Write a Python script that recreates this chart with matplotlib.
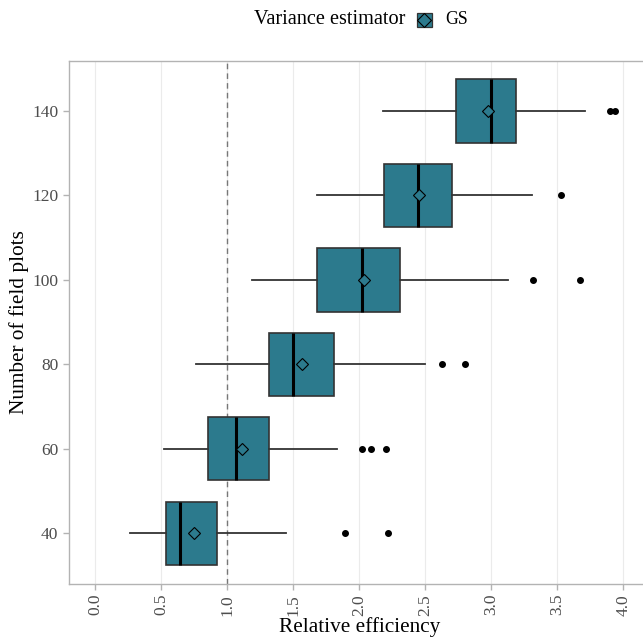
import matplotlib.pyplot as plt
import numpy as np
from matplotlib.patches import Rectangle
from matplotlib.lines import Line2D

plt.rcParams['font.family'] = ['Liberation Serif', 'DejaVu Serif']

# box summary per number of field plots
plots = [40, 60, 80, 100, 120, 140]
whislo = [0.265, 0.525, 0.763, 1.19, 1.684, 2.18]
q1 = [0.535, 0.859, 1.318, 1.684, 2.19, 2.737]
med = [0.644, 1.07, 1.502, 2.02, 2.444, 2.998]
q3 = [0.924, 1.318, 1.81, 2.31, 2.70, 3.184]
whishi = [1.444, 1.836, 2.50, 3.13, 3.31, 3.71]
means = [0.752, 1.116, 1.566, 2.033, 2.45, 2.975]
outliers = [[1.89, 2.22], [2.02, 2.09, 2.20], [2.63, 2.805],
            [3.316, 3.67], [3.53], [3.90, 3.94]]

teal = '#2C7A8D'
edge = '#333333'

fig = plt.figure(figsize=(6.43, 6.38), dpi=100)
W, H = 643, 638
ax = fig.add_axes([68.6 / W, (H - 583.5) / H, 581.1 / W, (583.5 - 60.7) / H])

stats = []
for i in range(len(plots)):
    stats.append(dict(whislo=whislo[i], q1=q1[i], med=med[i], q3=q3[i],
                      whishi=whishi[i], fliers=outliers[i], mean=means[i]))

ax.axvline(1.0, color='#777777', linestyle=(0, (4, 3)), linewidth=1.0, zorder=1)

ax.bxp(stats, positions=plots, widths=15, vert=False, patch_artist=True,
       showmeans=True, showcaps=False,
       boxprops=dict(facecolor=teal, edgecolor=edge, linewidth=1.2),
       whiskerprops=dict(color=edge, linewidth=1.3),
       medianprops=dict(color='black', linewidth=2.2),
       meanprops=dict(marker='D', markerfacecolor=teal, markeredgecolor='black',
                      markersize=6.5, markeredgewidth=0.8),
       flierprops=dict(marker='o', markerfacecolor='black', markeredgecolor='black',
                       markersize=4),
       zorder=3)

ax.set_xlim(-0.2, 4.2)
ax.set_ylim(28.1, 151.9)
ax.set_xticks(np.arange(0, 4.01, 0.5))
ax.set_xticklabels([f'{v:.1f}' for v in np.arange(0, 4.01, 0.5)], rotation=90)
ax.set_yticks([40, 60, 80, 100, 120, 140])
ax.set_yticklabels(['40', '60', '80', '100', '120', '140'])
ax.tick_params(axis='both', colors='#b3b3b3', labelcolor='#4d4d4d',
               labelsize=12.5, length=4, width=1)
ax.grid(axis='x', color='#ebebeb', linewidth=0.8, zorder=0)
ax.set_axisbelow(True)
for s in ax.spines.values():
    s.set_color('#b3b3b3')
    s.set_linewidth(1.0)

ax.set_xlabel('Relative efficiency', fontsize=15.3, labelpad=1)
ax.set_ylabel('Number of field plots', fontsize=15.3, labelpad=2)

# legend on top: title, key (box with mean diamond), label
fig.text(405 / W, 1 - 20 / H, 'Variance estimator', fontsize=14.6,
         ha='right', va='center')
fig.add_artist(Rectangle((417 / W, 1 - 27 / H), 15 / W, 14 / H,
                         facecolor=teal, edgecolor=edge, linewidth=0.9,
                         transform=fig.transFigure))
fig.add_artist(Line2D([424.5 / W], [1 - 20 / H], marker='D', markersize=7.5,
                      markerfacecolor=teal, markeredgecolor='black',
                      markeredgewidth=0.8, transform=fig.transFigure))
fig.text(445 / W, 1 - 20 / H, 'GS', fontsize=12.8, ha='left', va='center')

fig.savefig('out.png', dpi=100)
